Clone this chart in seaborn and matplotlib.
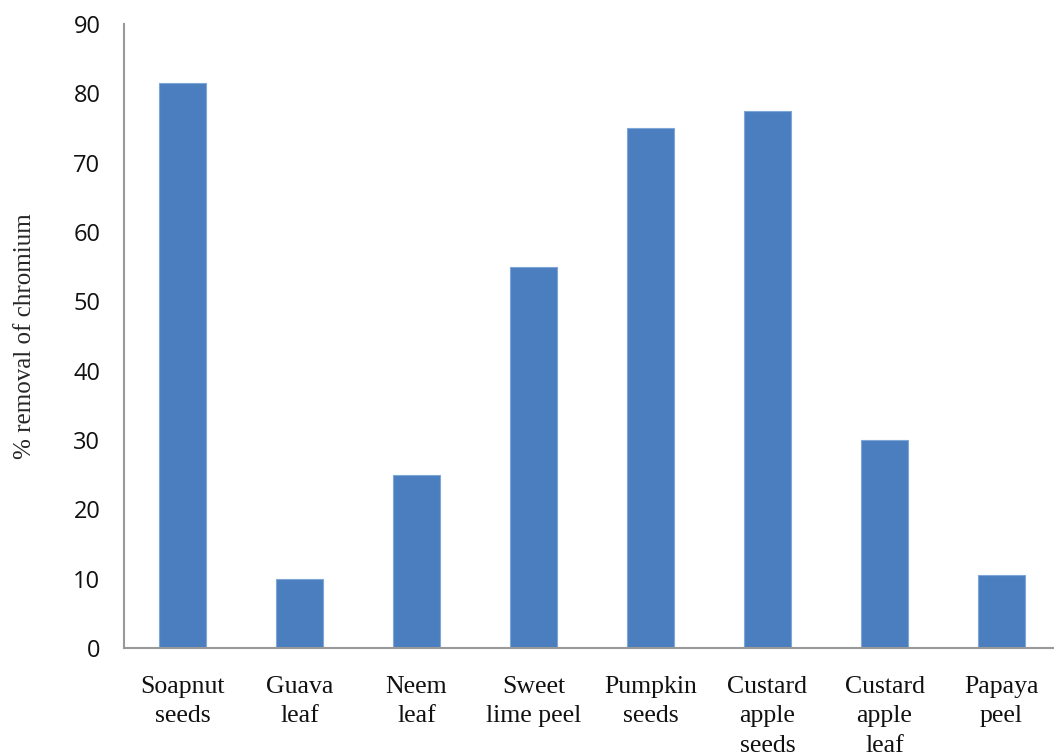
import matplotlib
matplotlib.use("Agg")
import matplotlib.pyplot as plt
import seaborn as sns
import pandas as pd

categories = ["Soapnut\nseeds", "Guava\nleaf", "Neem\nleaf", "Sweet\nlime peel",
              "Pumpkin\nseeds", "Custard\napple\nseeds", "Custard\napple\nleaf", "Papaya\npeel"]
removal = [81.5, 10, 25, 55, 75, 77.5, 30, 10.5]
y_ticks = [0, 10, 20, 30, 40, 50, 60, 70, 80, 90]

df = pd.DataFrame({"material": categories, "removal": removal})

sns.set_style("white")
fig = plt.figure(figsize=(10.54, 7.53), dpi=100)
ax = fig.add_axes([124 / 1054, 1 - 648 / 753, 936 / 1054, 624 / 753])

sns.barplot(data=df, x="material", y="removal", color="#4a7ebf", saturation=1,
            width=0.4, edgecolor="#7fa6d6", linewidth=0.8, ax=ax)

ax.set_xlim(-0.5, len(categories) - 0.5)
ax.set_ylim(0, 90)
ax.set_yticks(y_ticks)
ax.set_yticklabels([str(t) for t in y_ticks], fontsize=17, family="Open Sans", color="#111111")
ax.set_xticks(range(len(categories)))
ax.set_xticklabels(categories, fontsize=18.5, family="Liberation Serif", color="#111111",
                   linespacing=1.45, va="top")

ax.tick_params(axis="y", direction="in", length=10, width=1.5, color="#999999", pad=17)
ax.tick_params(axis="x", length=0, pad=20)

for side in ["top", "right"]:
    ax.spines[side].set_visible(False)
for side in ["left", "bottom"]:
    ax.spines[side].set_color("#999999")
    ax.spines[side].set_linewidth(1.5)

ax.set_xlabel("")
ax.set_ylabel("% removal of chromium", fontsize=18, family="Liberation Serif", labelpad=27)

fig.savefig("out.png", dpi=100)
